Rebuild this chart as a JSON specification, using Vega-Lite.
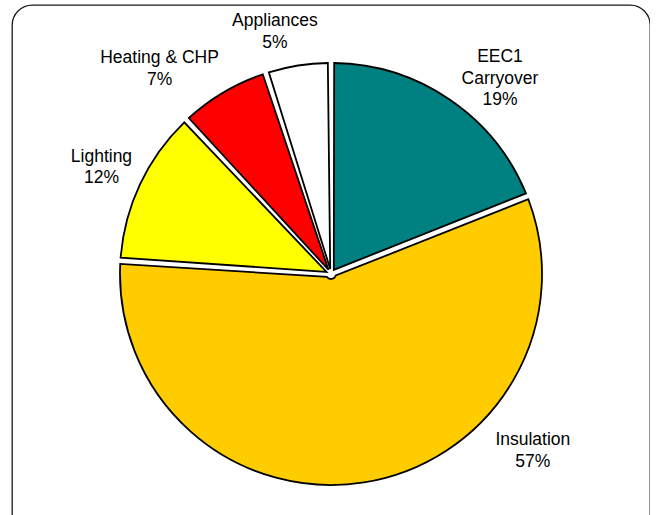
{
  "$schema": "https://vega.github.io/schema/vega-lite/v6.json",
  "width": 638,
  "height": 538,
  "autosize": {"type": "none"},
  "padding": {"left": 12, "top": 5, "right": 0, "bottom": 0},
  "background": "white",
  "view": {"stroke": "#1a1a1a", "strokeWidth": 1.3, "cornerRadius": 20},
  "config": {
    "view": {"stroke": "#1a1a1a", "strokeWidth": 1.3, "cornerRadius": 20},
    "text": {"font": "Liberation Sans", "fontSize": 17.5, "lineHeight": 21.7, "color": "black"}
  },
  "data": {
    "values": [
      {"category": "EEC1 Carryover", "label": "EEC1\nCarryover\n19%", "value": 19},
      {"category": "Insulation", "label": "Insulation\n57%", "value": 57},
      {"category": "Lighting", "label": "Lighting\n12%", "value": 12},
      {"category": "Heating & CHP", "label": "Heating & CHP\n7%", "value": 7},
      {"category": "Appliances", "label": "Appliances\n5%", "value": 5}
    ]
  },
  "transform": [{"stack": "value", "groupby": [], "as": ["v0", "v1"]}],
  "encoding": {
    "theta": {"field": "v0", "type": "quantitative", "scale": {"domain": [0, 100]}},
    "theta2": {"field": "v1"}
  },
  "layer": [
    {
      "mark": {"type": "arc", "outerRadius": 211, "innerRadius": 5, "padAngle": 0.03, "stroke": "black", "strokeWidth": 1.8},
      "encoding": {
        "fill": {
          "field": "category",
          "type": "nominal",
          "scale": {
            "domain": ["EEC1 Carryover", "Insulation", "Lighting", "Heating & CHP", "Appliances"],
            "range": ["#008080", "#FFCC00", "#FFFF00", "#FF0000", "#FFFFFF"]
          },
          "legend": null
        }
      }
    },
    {
      "transform": [{"filter": {"field": "category", "equal": "EEC1 Carryover"}}],
      "mark": {"type": "text", "radius": 230, "align": "center", "baseline": "alphabetic", "lineBreak": "\n", "dx": 169, "dy": 18},
      "encoding": {"text": {"field": "label"}}
    },
    {
      "transform": [{"filter": {"field": "category", "equal": "Insulation"}}],
      "mark": {"type": "text", "radius": 230, "align": "center", "baseline": "alphabetic", "lineBreak": "\n", "dx": -12, "dy": 256},
      "encoding": {"text": {"field": "label"}}
    },
    {
      "transform": [{"filter": {"field": "category", "equal": "Lighting"}}],
      "mark": {"type": "text", "radius": 230, "align": "center", "baseline": "alphabetic", "lineBreak": "\n", "dx": 0, "dy": -98},
      "encoding": {"text": {"field": "label"}}
    },
    {
      "transform": [{"filter": {"field": "category", "equal": "Heating & CHP"}}],
      "mark": {"type": "text", "radius": 230, "align": "center", "baseline": "alphabetic", "lineBreak": "\n", "dx": -14, "dy": -43},
      "encoding": {"text": {"field": "label"}}
    },
    {
      "transform": [{"filter": {"field": "category", "equal": "Appliances"}}],
      "mark": {"type": "text", "radius": 230, "align": "center", "baseline": "alphabetic", "lineBreak": "\n", "dx": 15, "dy": -29},
      "encoding": {"text": {"field": "label"}}
    }
  ]
}
